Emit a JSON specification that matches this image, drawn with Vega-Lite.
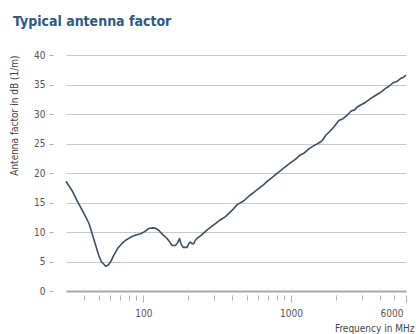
{
  "$schema": "https://vega.github.io/schema/vega-lite/v6.json",
  "width": 340,
  "height": 236,
  "autosize": "none",
  "padding": {"left": 66, "top": 55, "right": 10, "bottom": 43},
  "background": "white",
  "config": {
    "font": "DejaVu Sans Condensed, sans-serif",
    "view": {"stroke": null}
  },
  "title": {
    "text": "Typical antenna factor",
    "anchor": "start",
    "frame": "group",
    "dx": -53,
    "fontSize": 14,
    "fontWeight": "bold",
    "color": "#2e5a88",
    "font": "DejaVu Sans Condensed, sans-serif",
    "offset": 21
  },
  "data": {
    "values": [
      {"f": 30, "af": 18.6}, {"f": 33, "af": 17.0}, {"f": 36, "af": 15.1},
      {"f": 40, "af": 13.0}, {"f": 43, "af": 11.4}, {"f": 46.5, "af": 8.6},
      {"f": 50, "af": 6.0}, {"f": 52, "af": 5.0}, {"f": 55.7, "af": 4.2},
      {"f": 58, "af": 4.4}, {"f": 60, "af": 4.9}, {"f": 63, "af": 6.0},
      {"f": 67, "af": 7.2}, {"f": 72, "af": 8.1}, {"f": 76, "af": 8.6},
      {"f": 82, "af": 9.1}, {"f": 87, "af": 9.4}, {"f": 96, "af": 9.7},
      {"f": 103, "af": 10.1}, {"f": 109, "af": 10.6}, {"f": 117, "af": 10.7},
      {"f": 122, "af": 10.6}, {"f": 127, "af": 10.3}, {"f": 135, "af": 9.6},
      {"f": 145, "af": 8.9}, {"f": 152, "af": 8.2}, {"f": 157, "af": 7.7},
      {"f": 165, "af": 7.7}, {"f": 171, "af": 8.2}, {"f": 176, "af": 8.9},
      {"f": 180, "af": 8.0}, {"f": 186, "af": 7.4}, {"f": 198, "af": 7.4},
      {"f": 203, "af": 8.0}, {"f": 208, "af": 8.3}, {"f": 214, "af": 8.0},
      {"f": 219, "af": 8.0}, {"f": 225, "af": 8.6}, {"f": 231, "af": 8.9},
      {"f": 245, "af": 9.4}, {"f": 256, "af": 9.8}, {"f": 275, "af": 10.5},
      {"f": 300, "af": 11.2}, {"f": 330, "af": 12.0}, {"f": 360, "af": 12.6},
      {"f": 400, "af": 13.7}, {"f": 430, "af": 14.6}, {"f": 450, "af": 14.9},
      {"f": 480, "af": 15.3}, {"f": 520, "af": 16.1}, {"f": 560, "af": 16.7},
      {"f": 600, "af": 17.3}, {"f": 650, "af": 18.0}, {"f": 700, "af": 18.7},
      {"f": 750, "af": 19.3}, {"f": 800, "af": 19.9}, {"f": 850, "af": 20.4},
      {"f": 900, "af": 20.9}, {"f": 1000, "af": 21.8}, {"f": 1070, "af": 22.3},
      {"f": 1145, "af": 23.0}, {"f": 1230, "af": 23.4}, {"f": 1320, "af": 24.1},
      {"f": 1420, "af": 24.6}, {"f": 1520, "af": 25.0}, {"f": 1627, "af": 25.5},
      {"f": 1720, "af": 26.4}, {"f": 1820, "af": 27.0}, {"f": 1950, "af": 27.8},
      {"f": 2105, "af": 28.9}, {"f": 2250, "af": 29.2}, {"f": 2400, "af": 29.8},
      {"f": 2550, "af": 30.5}, {"f": 2700, "af": 30.7}, {"f": 2800, "af": 31.2},
      {"f": 3000, "af": 31.6}, {"f": 3200, "af": 32.0}, {"f": 3450, "af": 32.6},
      {"f": 3700, "af": 33.1}, {"f": 4000, "af": 33.6}, {"f": 4340, "af": 34.3},
      {"f": 4600, "af": 34.7}, {"f": 4900, "af": 35.3}, {"f": 5200, "af": 35.5},
      {"f": 5500, "af": 36.0}, {"f": 5750, "af": 36.2}, {"f": 6000, "af": 36.6}
    ]
  },
  "mark": {"type": "line", "color": "#3b4f66", "strokeWidth": 1.6, "strokeJoin": "round"},
  "encoding": {
    "x": {
      "field": "f",
      "type": "quantitative",
      "scale": {"type": "log", "domain": [30, 6000], "nice": false},
      "axis": {
        "values": [40, 50, 60, 70, 80, 90, 100, 200, 300, 400, 500, 600, 700, 800, 900, 1000, 2000, 3000, 4000, 5000, 6000],
        "labelExpr": "(datum.value == 100 || datum.value == 1000 || datum.value == 6000) ? format(datum.value, 'd') : ''",
        "labelOverlap": false,
        "labelFlush": true,
        "labelFlushOffset": -3,
        "domain": false,
        "grid": false,
        "offset": 4,
        "tickSize": {"condition": {"test": "datum.value == 100 || datum.value == 1000 || datum.value == 6000", "value": 7}, "value": 5},
        "tickColor": "#b0b0b0",
        "tickWidth": 1,
        "labelFontSize": 10,
        "labelColor": "#555555",
        "labelPadding": 6,
        "title": "Frequency in MHz",
        "titleFontSize": 10,
        "titleFontWeight": "normal",
        "titleColor": "#444444",
        "titleAnchor": "end",
        "titleAlign": "right",
        "titleX": 348,
        "titlePadding": 5
      }
    },
    "y": {
      "field": "af",
      "type": "quantitative",
      "scale": {"domain": [0, 40], "nice": false, "zero": true},
      "axis": {
        "values": [0, 5, 10, 15, 20, 25, 30, 35, 40],
        "offset": 13,
        "domain": false,
        "tickSize": 4,
        "tickColor": "#b0b0b0",
        "gridColor": {"condition": {"test": "datum.value == 0", "value": "#a8a8a8"}, "value": "#c8c8c8"},
        "gridWidth": {"condition": {"test": "datum.value == 0", "value": 2}, "value": 1.2},
        "labelFontSize": 10,
        "labelColor": "#555555",
        "labelPadding": 4,
        "title": "Antenna factor in dB (1/m)",
        "titleFontSize": 10,
        "titleFontWeight": "normal",
        "titleColor": "#444444",
        "titleAnchor": "end",
        "titlePadding": 14
      }
    }
  }
}
